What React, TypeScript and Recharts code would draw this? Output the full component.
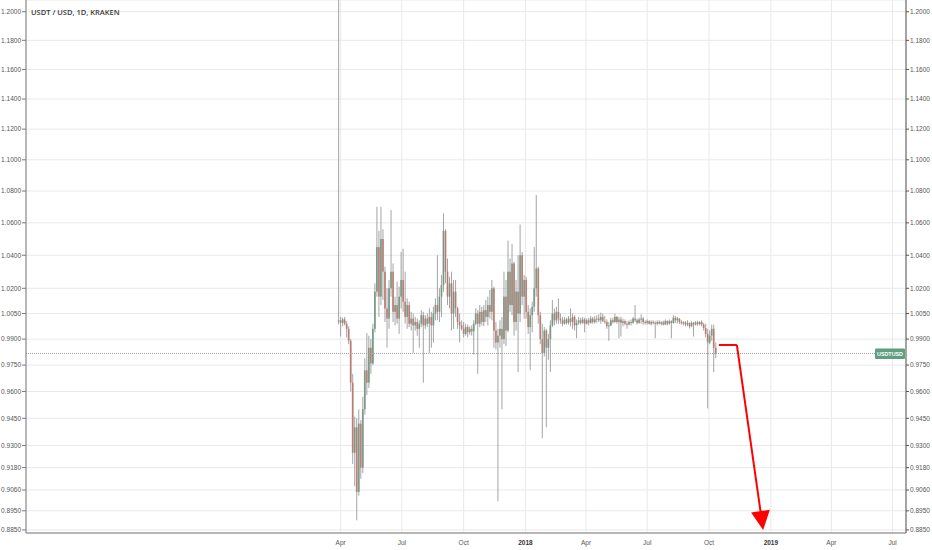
import {
  Bar,
  CartesianGrid,
  ComposedChart,
  ReferenceLine,
  XAxis,
  YAxis,
} from "recharts";

// days are counted from 2017-04-01, one candle every 3 days
const FIRST_DAY = -3;
const STEP_DAYS = 3;

const X_TICKS = [0, 91, 183, 275, 365, 456, 548, 640, 730, 821];
const X_LABELS = ["Apr", "Jul", "Oct", "2018", "Apr", "Jul", "Oct", "2019", "Apr", "Jul"];

const Y_TICKS = [
  1.2, 1.18, 1.16, 1.14, 1.12, 1.1, 1.08, 1.06, 1.04, 1.02, 1.005, 0.99, 0.975,
  0.96, 0.945, 0.93, 0.918, 0.906, 0.895, 0.885,
];

const opens = [
  1.0005, 1.001, 0.9995, 1.0015, 0.999, 0.996, 0.989, 0.965, 0.926, 0.94,
  0.905, 0.942, 0.918, 0.95, 0.972, 0.965, 0.985, 0.976, 0.996, 1.018,
  1.045, 1.015, 1.05, 1.03, 1.008, 1.002, 1.02, 1.03, 1.006, 1.01,
  1.002, 1.015, 1.025, 1.012, 1.003, 1.01, 0.999, 1.002, 0.998, 1.0,
  0.996, 0.999, 1.004, 0.998, 1.002, 0.999, 1.003, 0.998, 1.005, 1.01,
  1.006, 1.015, 1.022, 1.055, 1.03, 1.015, 1.023, 1.005, 1.018, 1.008,
  1.0, 0.998, 0.996, 0.993, 0.997, 0.994, 0.996, 0.9945, 0.999, 1.005,
  0.999, 1.006, 1.0, 1.007, 1.003, 1.01, 1.006, 1.02, 0.995, 0.988,
  0.992, 0.996, 0.99, 1.015, 0.995, 1.03, 1.01, 1.035, 1.0, 1.018,
  1.005, 1.04, 1.015, 1.025, 1.006, 0.997, 1.004, 1.009, 1.02, 1.032,
  1.004, 0.99, 0.982, 0.995, 0.985, 0.99, 0.998, 1.005, 1.001, 1.006,
  1.002, 1.001, 0.999, 1.0015, 0.9995, 1.002, 1.0, 1.003, 0.998, 0.9995,
  1.001, 0.9995, 1.0015, 0.999, 1.001, 0.9995, 1.002, 1.0, 1.0015, 1.002,
  1.001, 1.003, 1.0005, 1.0, 0.9975, 0.998, 1.001, 1.0, 1.003, 1.0,
  1.0015, 0.9995, 1.0005, 0.999, 0.9985, 1.0, 0.9995, 1.002, 1.001, 0.9995,
  1.0015, 1.002, 1.0, 0.9995, 1.0005, 0.999, 1.0, 0.9995, 0.999, 1.0,
  0.999, 0.9998, 0.9985, 1.0005, 0.999, 1.0005, 0.9995, 1.0025, 1.001, 1.002,
  1.0, 0.9992, 0.9998, 0.9985, 0.9995, 0.9975, 0.9995, 0.9985, 0.9998, 0.9988,
  1.0, 0.9985, 0.9965, 0.993, 0.988, 0.992, 0.996, 0.985,
];

const highs = [
  1.2083, 1.003, 1.0025, 1.003, 1.0005, 0.9975, 0.99, 0.97, 0.946, 0.945,
  0.95, 0.944, 0.957, 0.979, 0.9935, 0.992, 0.99, 0.999, 1.023, 1.07,
  1.055, 1.07, 1.056, 1.033, 1.02, 1.025, 1.068, 1.035, 1.015, 1.024,
  1.021, 1.042, 1.044, 1.03, 1.014, 1.012, 1.006, 1.005, 1.003, 1.002,
  1.001, 1.007, 1.006, 1.004, 1.005, 1.008, 1.006, 1.009, 1.014, 1.04,
  1.02, 1.028, 1.066, 1.056, 1.038, 1.027, 1.03, 1.025, 1.025, 1.009,
  1.005, 1.001, 1.0, 0.999, 0.9985, 0.9975, 0.998, 1.001, 1.008, 1.007,
  1.01, 1.009, 1.01, 1.013, 1.015, 1.019, 1.025, 1.021, 1.0, 0.996,
  1.001, 1.003, 1.03, 1.025, 1.049, 1.038, 1.047, 1.036, 1.025, 1.04,
  1.059, 1.042, 1.028, 1.027, 1.01, 1.008, 1.012, 1.045, 1.0775, 1.033,
  1.006, 0.999, 0.997, 0.996, 0.993, 1.001, 1.013, 1.008, 1.009, 1.014,
  1.005, 1.003, 1.003, 1.0025, 1.0035, 1.008, 1.005, 1.004, 1.0015, 1.003,
  1.0025, 1.003, 1.0025, 1.002, 1.0025, 1.0035, 1.003, 1.0035, 1.004, 1.0045,
  1.0055, 1.005, 1.0035, 1.0015, 1.0, 1.0025, 1.0025, 1.005, 1.0035, 1.003,
  1.003, 1.002, 1.0015, 1.0005, 1.001, 1.0015, 1.003, 1.01, 1.002, 1.0025,
  1.0045, 1.003, 1.001, 1.0015, 1.001, 1.001, 1.001, 1.0005, 1.001, 1.001,
  1.0005, 1.0008, 1.0015, 1.001, 1.0015, 1.001, 1.004, 1.0035, 1.003, 1.0022,
  1.001, 1.0005, 1.0005, 1.001, 0.9998, 1.0005, 1.0, 1.0005, 1.0008, 1.0005,
  1.001, 0.9995, 0.999, 0.996, 0.995, 0.9985, 0.9985, 0.988,
];

const lows = [
  0.9985, 0.9915, 0.9975, 0.998, 0.991, 0.987, 0.96, 0.92, 0.908, 0.89,
  0.903, 0.912, 0.915, 0.947, 0.958, 0.962, 0.97, 0.975, 0.994, 1.015,
  1.003, 1.01, 1.013, 1.0, 0.985, 0.996, 1.015, 1.0, 0.998, 0.999,
  0.993, 1.008, 1.006, 0.999, 0.996, 0.997, 0.995, 0.982, 0.995, 0.992,
  0.985, 0.997, 0.965, 0.996, 0.997, 0.982, 0.985, 0.988, 1.001, 1.001,
  1.0, 1.003, 1.018, 1.023, 1.01, 1.008, 0.995, 0.996, 1.003, 0.996,
  0.988, 0.995, 0.991, 0.992, 0.991, 0.9925, 0.992, 0.981, 0.998, 0.97,
  0.997, 0.998, 0.9975, 1.0, 0.998, 1.002, 1.001, 0.985, 0.984, 0.9,
  0.985, 0.95, 0.987, 0.986, 0.994, 1.006, 1.004, 0.992, 0.995, 0.971,
  1.0, 1.01, 1.002, 1.002, 0.993, 0.972, 0.994, 1.006, 1.015, 0.999,
  0.987, 0.934, 0.98, 0.94, 0.978, 0.971, 0.997, 0.998, 0.999, 0.999,
  0.999, 0.9975, 0.9985, 0.9985, 0.9985, 0.9975, 0.996, 0.995, 0.9905, 0.9985,
  0.9985, 0.999, 0.994, 0.9985, 0.998, 0.999, 0.999, 0.999, 0.9995, 1.0,
  0.999, 1.0, 0.999, 0.996, 0.989, 0.9975, 0.999, 0.9995, 0.999, 0.9905,
  0.9915, 0.9975, 0.998, 0.996, 0.998, 0.998, 0.999, 1.0, 0.9985, 0.999,
  0.999, 0.9985, 0.9985, 0.9985, 0.9985, 0.998, 0.9985, 0.9905, 0.998, 0.9985,
  0.998, 0.998, 0.9982, 0.998, 0.9985, 0.9905, 0.999, 0.9995, 0.9992, 0.9988,
  0.9985, 0.998, 0.9975, 0.9975, 0.9962, 0.997, 0.9915, 0.998, 0.9978, 0.998,
  0.9975, 0.995, 0.991, 0.9505, 0.987, 0.989, 0.971, 0.979,
];

const closes = [
  1.001, 0.9995, 1.0015, 0.999, 0.996, 0.989, 0.965, 0.926, 0.94, 0.905,
  0.942, 0.918, 0.95, 0.972, 0.965, 0.985, 0.976, 0.996, 1.018, 1.045,
  1.015, 1.05, 1.03, 1.008, 1.002, 1.02, 1.03, 1.006, 1.01, 1.002,
  1.015, 1.025, 1.012, 1.003, 1.01, 0.999, 1.002, 0.998, 1.0, 0.996,
  0.999, 1.004, 0.998, 1.002, 0.999, 1.003, 0.998, 1.005, 1.01, 1.006,
  1.015, 1.022, 1.055, 1.03, 1.015, 1.023, 1.005, 1.018, 1.008, 1.0,
  0.998, 0.996, 0.993, 0.997, 0.994, 0.996, 0.9945, 0.999, 1.005, 0.999,
  1.006, 1.0, 1.007, 1.003, 1.01, 1.006, 1.02, 0.995, 0.988, 0.992,
  0.996, 0.99, 1.015, 0.995, 1.03, 1.01, 1.035, 1.0, 1.018, 1.005,
  1.04, 1.015, 1.025, 1.006, 0.997, 1.004, 1.009, 1.02, 1.032, 1.004,
  0.99, 0.982, 0.995, 0.985, 0.99, 0.998, 1.005, 1.001, 1.006, 1.002,
  1.001, 0.999, 1.0015, 0.9995, 1.002, 1.0, 1.003, 0.998, 0.9995, 1.001,
  0.9995, 1.0015, 0.999, 1.001, 0.9995, 1.002, 1.0, 1.0015, 1.002, 1.001,
  1.003, 1.0005, 1.0, 0.9975, 0.998, 1.001, 1.0, 1.003, 1.0, 1.0015,
  0.9995, 1.0005, 0.999, 0.9985, 1.0, 0.9995, 1.002, 1.001, 0.9995, 1.0015,
  1.002, 1.0, 0.9995, 1.0005, 0.999, 1.0, 0.9995, 0.999, 1.0, 0.999,
  0.9998, 0.9985, 1.0005, 0.999, 1.0005, 0.9995, 1.0025, 1.001, 1.002, 1.0,
  0.9992, 0.9998, 0.9985, 0.9995, 0.9975, 0.9995, 0.9985, 0.9998, 0.9988, 1.0,
  0.9985, 0.9965, 0.993, 0.988, 0.992, 0.996, 0.985, 0.9817,
];

const LAST_PRICE = 0.9817;

// hand-drawn red arrow: [day, price] points
const ARROW_LEDGE = [
  { x: 562.6, y: 0.9866 },
  { x: 589.4, y: 0.9866 },
];
const ARROW_DROP = [
  { x: 589.4, y: 0.9866 },
  { x: 628.5, y: 0.885 },
];

const COLORS = {
  wick: "#808080",
  up: "#7fb096",
  down: "#e2887a",
  grid: "#e9e9e9",
  axis: "#7a7a7a",
  tick: "#555555",
  tag: "#5f9e80",
  arrow: "#ff0000",
};

const FONT = '"Liberation Sans", Arial, sans-serif';

const data = closes.map((close, i) => ({
  day: FIRST_DAY + i * STEP_DAYS,
  open: opens[i],
  high: highs[i],
  low: lows[i],
  close,
  range: [lows[i], highs[i]],
}));

const Candle = (props: any) => {
  const { x, y, width, height, payload } = props;
  if (!payload) return null;
  const top = Math.min(y, y + height);
  const h = Math.abs(height);
  const cx = x + width / 2;
  const { open, close, high, low } = payload;
  const span = Math.log(high) - Math.log(low);
  const yOf = (p: number) =>
    span > 0 ? top + ((Math.log(high) - Math.log(p)) / span) * h : top;
  const bodyTop = yOf(Math.max(open, close));
  const bodyBot = yOf(Math.min(open, close));
  const up = close >= open;
  return (
    <g>
      <rect
        x={cx - 0.9}
        y={bodyTop}
        width={1.8}
        height={Math.max(bodyBot - bodyTop, 1)}
        fill={up ? COLORS.up : COLORS.down}
      />
      <line
        x1={cx}
        x2={cx}
        y1={top}
        y2={top + h}
        stroke={COLORS.wick}
        strokeWidth={0.8}
        strokeOpacity={0.9}
      />
    </g>
  );
};

const XTick = (props: any) => {
  const { x, y, payload } = props;
  const label = X_LABELS[X_TICKS.indexOf(payload.value)] ?? "";
  const isYear = /^\d{4}$/.test(label);
  return (
    <text
      x={x}
      y={y}
      dy="0.71em"
      textAnchor="middle"
      fontSize={6.5}
      fontFamily={FONT}
      fontWeight={isYear ? 700 : 400}
      fill={isYear ? "#333" : COLORS.tick}
    >
      {label}
    </text>
  );
};

const PriceTag = (props: any) => {
  const { viewBox } = props;
  if (!viewBox) return null;
  const right = viewBox.x + viewBox.width - 1;
  const w = 30;
  return (
    <g>
      <rect x={right - w} y={viewBox.y - 5} width={w} height={10.5} fill={COLORS.tag} rx={1} />
      <text
        x={right - w / 2}
        y={viewBox.y + 2.3}
        textAnchor="middle"
        fontSize={6.2}
        fontWeight={700}
        fontFamily={FONT}
        fill="#fff"
        textLength={26}
        lengthAdjust="spacingAndGlyphs"
      >
        USDTUSD
      </text>
    </g>
  );
};

const ArrowShape = (props: any) => {
  const { x1, y1, x2, y2 } = props;
  const dx = x2 - x1;
  const dy = y2 - y1;
  const len = Math.hypot(dx, dy) || 1;
  const ux = dx / len;
  const uy = dy / len;
  const head = 19;
  const half = 9.5;
  const bx = x2 - ux * head;
  const by = y2 - uy * head;
  return (
    <g>
      <line x1={x1} y1={y1} x2={bx} y2={by} stroke={COLORS.arrow} strokeWidth={2} />
      <polygon
        points={`${x2},${y2} ${bx - uy * half},${by + ux * half} ${bx + uy * half},${by - ux * half}`}
        fill={COLORS.arrow}
      />
    </g>
  );
};

const yTick = { fontSize: 6.5, fill: COLORS.tick, fontFamily: FONT };

export default function App() {
  return (
    <div style={{ position: "relative", width: 932, height: 550, background: "#fff" }}>
      <style>{"body{margin:0;}"}</style>
      <ComposedChart
        width={932}
        height={550}
        data={data}
        margin={{ top: 0, right: 0, bottom: 0, left: 0 }}
      >
        <CartesianGrid stroke={COLORS.grid} yAxisId="left" />
        <XAxis
          dataKey="day"
          type="number"
          domain={[-468, 841]}
          allowDataOverflow
          ticks={X_TICKS}
          interval={0}
          height={17}
          stroke={COLORS.axis}
          tickLine={false}
          tickSize={6}
          tickMargin={1}
          tick={<XTick />}
        />
        <YAxis
          yAxisId="left"
          orientation="left"
          width={26}
          scale="log"
          domain={[0.8834, 1.2083]}
          allowDataOverflow
          ticks={Y_TICKS}
          interval={0}
          tickFormatter={(v: number) => v.toFixed(4)}
          stroke={COLORS.axis}
          tickSize={4}
          tickMargin={1}
          tick={yTick}
        />
        <YAxis
          yAxisId="right"
          orientation="right"
          width={26}
          scale="log"
          domain={[0.8834, 1.2083]}
          allowDataOverflow
          ticks={Y_TICKS}
          interval={0}
          tickFormatter={(v: number) => v.toFixed(4)}
          stroke="#555"
          tickSize={3}
          tickMargin={1}
          tick={yTick}
        />
        <ReferenceLine
          yAxisId="left"
          y={LAST_PRICE}
          stroke="#a0a0a0"
          strokeDasharray="1 1"
          label={<PriceTag />}
        />
        <Bar
          yAxisId="left"
          dataKey="range"
          barSize={2}
          shape={<Candle />}
          isAnimationActive={false}
        />
        <ReferenceLine
          yAxisId="left"
          segment={ARROW_LEDGE}
          stroke={COLORS.arrow}
          strokeWidth={2}
        />
        <ReferenceLine
          yAxisId="left"
          segment={ARROW_DROP}
          stroke={COLORS.arrow}
          strokeWidth={2}
          shape={ArrowShape}
        />
      </ComposedChart>
      <div
        style={{
          position: "absolute",
          left: 31,
          top: 7,
          fontFamily: '"Open Sans", sans-serif',
          fontWeight: 600,
          fontSize: 7.5,
          color: "#3a3a3a",
          whiteSpace: "nowrap",
        }}
      >
        USDT / USD, 1D, KRAKEN
      </div>
    </div>
  );
}
